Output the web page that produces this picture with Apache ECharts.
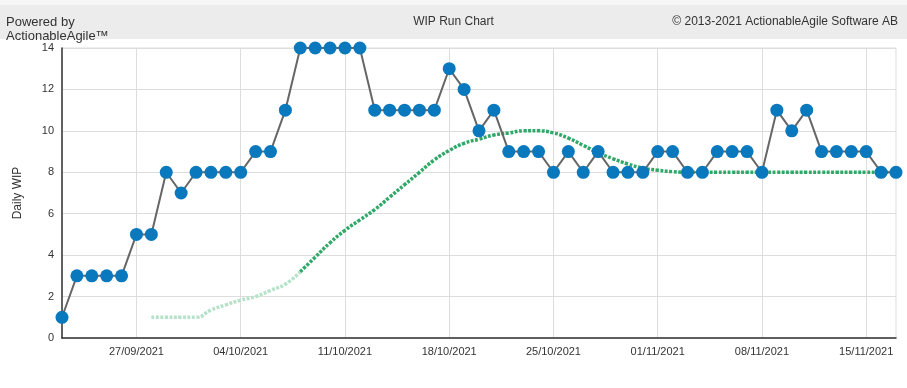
<!DOCTYPE html>
<html>
<head>
<meta charset="utf-8">
<script src="https://cdn.jsdelivr.net/npm/echarts@6/dist/echarts.min.js"></script>
<style>html,body{margin:0;padding:0;background:#fff}#c{width:907px;height:388px}</style>
</head>
<body>
<div id="c"></div>
<script>
const dates = ['22/09/2021','23/09/2021','24/09/2021','25/09/2021','26/09/2021','27/09/2021','28/09/2021','29/09/2021','30/09/2021',
'01/10/2021','02/10/2021','03/10/2021','04/10/2021','05/10/2021','06/10/2021','07/10/2021','08/10/2021','09/10/2021','10/10/2021',
'11/10/2021','12/10/2021','13/10/2021','14/10/2021','15/10/2021','16/10/2021','17/10/2021','18/10/2021','19/10/2021','20/10/2021',
'21/10/2021','22/10/2021','23/10/2021','24/10/2021','25/10/2021','26/10/2021','27/10/2021','28/10/2021','29/10/2021','30/10/2021','31/10/2021',
'01/11/2021','02/11/2021','03/11/2021','04/11/2021','05/11/2021','06/11/2021','07/11/2021','08/11/2021','09/11/2021','10/11/2021',
'11/11/2021','12/11/2021','13/11/2021','14/11/2021','15/11/2021','16/11/2021','17/11/2021'];
const tickLabels = ['27/09/2021','04/10/2021','11/10/2021','18/10/2021','25/10/2021','01/11/2021','08/11/2021','15/11/2021'];
const dailyWip = [1,3,3,3,3,5,5,8,7,
8,8,8,8,9,9,11,14,14,14,
14,14,11,11,11,11,11,13,12,10,
11,9,9,9,8,9,8,9,8,8,8,
9,9,8,8,9,9,9,8,11,10,
11,9,9,9,9,8,8];
// moving average: early (faded) part and main part
const avgEarly = [null,null,null,null,null,null,1.0,1.0,1.0,
1.0,1.35,1.6,1.83,2.0,2.3,2.6,3.2];
const avgMain = [null,null,null,null,null,null,null,null,null,
null,null,null,null,null,null,null,3.2,3.9,4.6,
5.2,5.7,6.2,6.8,7.4,8.0,8.6,9.05,9.4,9.6,
9.8,9.9,10.0,10.0,9.9,9.65,9.3,8.95,8.65,8.4,8.2,
8.1,8.03,8.0,8.0,8.0,8.0,8.0,8.0,8.0,8.0,
8.0,8.0,8.0,8.0,8.0,8.0,8.0];
const yTicks = {min:0, max:14, interval:2};

const font = 'Liberation Sans, Arial, sans-serif';
const chart = echarts.init(document.getElementById('c'));
const isTick = (i) => tickLabels.indexOf(dates[i]) >= 0;
chart.setOption({
  animation: false,
  graphic: [
    {type:'rect', shape:{x:0,y:0,width:907,height:5}, style:{fill:'#f6f6f6'}, z:-10},
    {type:'rect', shape:{x:0,y:5,width:907,height:34}, style:{fill:'#ececec'}, z:-10},
    {type:'text', left:6, top:16, style:{text:'Powered by', font:'13px '+font, fill:'#333'}},
    {type:'text', left:6, top:30, style:{text:'ActionableAgile™', font:'13px '+font, fill:'#333'}},
    {type:'text', left:'center', top:16, style:{text:'WIP Run Chart', font:'12px '+font, fill:'#333'}},
    {type:'text', right:9, top:16, style:{text:'© 2013-2021 ActionableAgile Software AB', font:'12px '+font, fill:'#333'}}
  ],
  grid: {left:62, right:11, top:48, bottom:50, show:true, borderColor:'#dddddd', borderWidth:1},
  xAxis: {
    type:'category', data:dates, boundaryGap:false,
    axisLine:{show:true, lineStyle:{color:'#333', width:1.5}},
    axisTick:{show:false},
    axisLabel:{interval:(i)=>isTick(i), color:'#333', fontSize:11, fontFamily:font, margin:8},
    splitLine:{show:true, interval:(i)=>isTick(i), lineStyle:{color:'#dddddd'}}
  },
  yAxis: {
    type:'value', min:yTicks.min, max:yTicks.max, interval:yTicks.interval,
    name:'Daily WIP', nameLocation:'middle', nameGap:38, nameRotate:90,
    nameTextStyle:{color:'#333', fontSize:12, fontFamily:font},
    axisLine:{show:true, lineStyle:{color:'#333', width:1.5}},
    axisTick:{show:false},
    axisLabel:{color:'#333', fontSize:11, fontFamily:font, margin:8},
    splitLine:{lineStyle:{color:'#dddddd'}}
  },
  series: [
    {type:'line', data:avgEarly, smooth:true, symbol:'none', connectNulls:false,
     lineStyle:{color:'#b5e2c9', width:3.5, type:[3,1.5]}, z:2},
    {type:'line', data:avgMain, smooth:true, symbol:'none', connectNulls:false,
     lineStyle:{color:'#2fa868', width:3.5, type:[3,1.5]}, z:2},
    {type:'line', data:dailyWip, symbol:'circle', symbolSize:13, showSymbol:true, showAllSymbol:true,
     lineStyle:{color:'#666', width:2}, itemStyle:{color:'#0a78bd'}, z:3}
  ]
});
</script>
</body>
</html>
